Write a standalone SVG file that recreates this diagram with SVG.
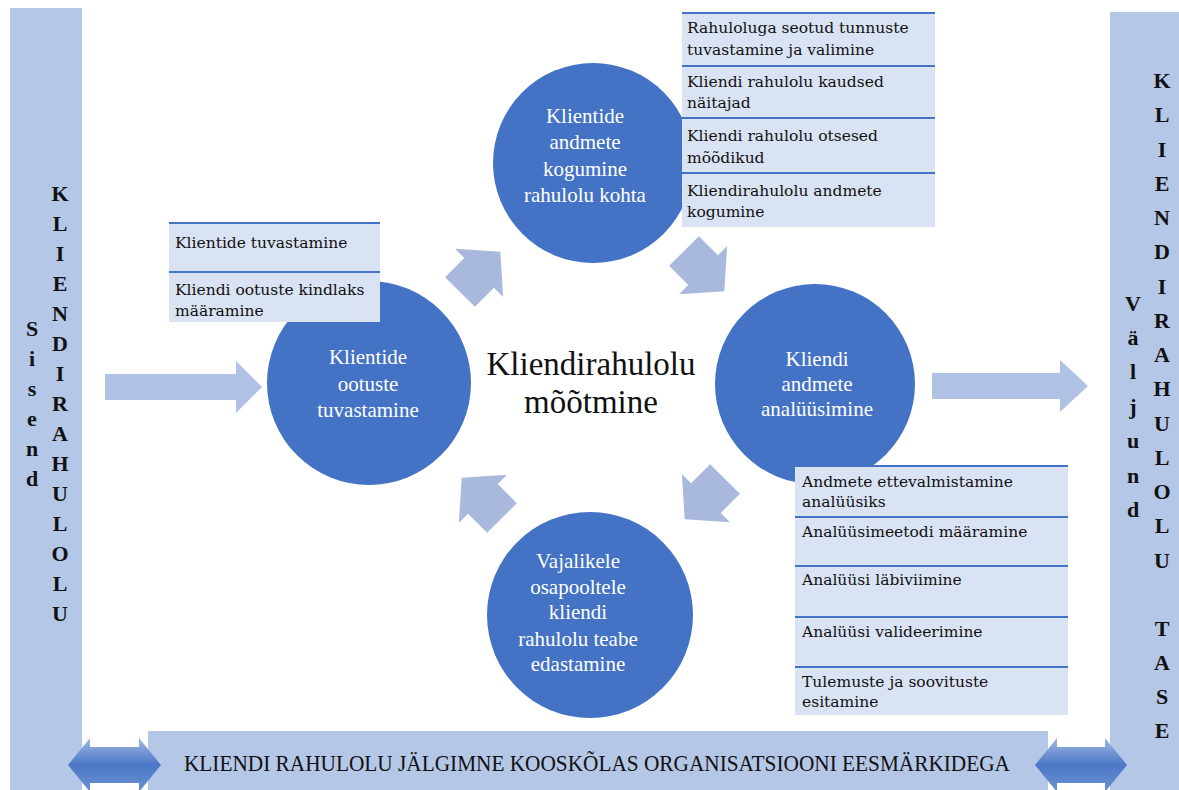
<svg xmlns="http://www.w3.org/2000/svg" width="1179" height="790" viewBox="0 0 1179 790">
<style>
.bar{fill:#B4C7E7}
.circ{fill:#4472C4}
.ctext{font-family:"Liberation Serif",serif;font-size:21px;fill:#FFFFFF;text-anchor:middle}
.center{font-family:"Liberation Serif",serif;font-size:33px;fill:#111;text-anchor:middle}
.vt{font-family:"Liberation Serif",serif;font-size:22px;font-weight:bold;fill:#111;text-anchor:middle}
.row{fill:#DAE3F3}
.rline{stroke:#4472C4;stroke-width:2}
.btext{font-family:"DejaVu Serif",serif;font-size:15.5px;fill:#111}
.harrow{fill:#AFC1E5}
.darrow{fill:#A9B9DD}
.barText{font-family:"Liberation Serif",serif;font-size:23px;fill:#111}
</style>
<defs>
<path id="fat" d="M0,-21 H27 V-34 L57,0 L27,34 V21 H0 Z"/>
<linearGradient id="dg" x1="0" y1="0" x2="0" y2="1">
<stop offset="0" stop-color="#A3B9E5"/>
<stop offset="0.5" stop-color="#4A77C6"/>
<stop offset="1" stop-color="#6F92D2"/>
</linearGradient>
</defs>
<rect width="1179" height="790" fill="#FFFFFF"/>

<g id="input-bar">
<rect class="bar" x="10" y="8" width="72" height="782"/>
<text class="vt"><tspan x="32" y="336">S</tspan><tspan x="32" y="366">i</tspan><tspan x="32" y="396">s</tspan><tspan x="32" y="426">e</tspan><tspan x="32" y="456">n</tspan><tspan x="32" y="486">d</tspan></text>
<text class="vt"><tspan x="60" y="201">K</tspan><tspan x="60" y="231">L</tspan><tspan x="60" y="261">I</tspan><tspan x="60" y="291">E</tspan><tspan x="60" y="321">N</tspan><tspan x="60" y="351">D</tspan><tspan x="60" y="381">I</tspan><tspan x="60" y="411">R</tspan><tspan x="60" y="441">A</tspan><tspan x="60" y="471">H</tspan><tspan x="60" y="501">U</tspan><tspan x="60" y="531">L</tspan><tspan x="60" y="561">O</tspan><tspan x="60" y="591">L</tspan><tspan x="60" y="621">U</tspan></text>
</g>

<g id="output-bar">
<rect class="bar" x="1110" y="12" width="69" height="778"/>
<text class="vt"><tspan x="1133" y="311">V</tspan><tspan x="1133" y="345">ä</tspan><tspan x="1133" y="379">l</tspan><tspan x="1133" y="414">j</tspan><tspan x="1133" y="448">u</tspan><tspan x="1133" y="483">n</tspan><tspan x="1133" y="517">d</tspan></text>
<text class="vt"><tspan x="1162" y="88">K</tspan><tspan x="1162" y="122">L</tspan><tspan x="1162" y="157">I</tspan><tspan x="1162" y="191">E</tspan><tspan x="1162" y="225">N</tspan><tspan x="1162" y="259">D</tspan><tspan x="1162" y="294">I</tspan><tspan x="1162" y="328">R</tspan><tspan x="1162" y="362">A</tspan><tspan x="1162" y="396">H</tspan><tspan x="1162" y="431">U</tspan><tspan x="1162" y="465">L</tspan><tspan x="1162" y="499">O</tspan><tspan x="1162" y="533">L</tspan><tspan x="1162" y="568">U</tspan><tspan x="1162" y="636">T</tspan><tspan x="1162" y="670">A</tspan><tspan x="1162" y="704">S</tspan><tspan x="1162" y="738">E</tspan></text>
</g>

<g id="bottom-bar">
<rect class="bar" x="148" y="731" width="900" height="59"/>
<text class="barText" x="184" y="771" textLength="826" lengthAdjust="spacingAndGlyphs">KLIENDI RAHULOLU JÄLGIMNE KOOSKÕLAS ORGANISATSIOONI EESMÄRKIDEGA</text>
</g>

<g id="connectors">
<path class="harrow" d="M105,374 H236 V361 L262,387 L236,413 V400 H105 Z"/>
<path class="harrow" d="M932,373 H1060 V360 L1088,386 L1060,412 V399 H932 Z"/>
<use href="#fat" class="darrow" transform="translate(460,292) rotate(-45)"/>
<use href="#fat" class="darrow" transform="translate(684,251) rotate(45)"/>
<use href="#fat" class="darrow" transform="translate(725,479) rotate(135)"/>
<use href="#fat" class="darrow" transform="translate(502,518) rotate(-135)"/>
<path fill="url(#dg)" d="M68,765 L90,738 V747 H139 V738 L161,765 L139,792 V783 H90 V792 Z"/>
<path fill="url(#dg)" d="M1035,765 L1057,738 V747 H1105 V738 L1127,765 L1105,792 V783 H1057 V792 Z"/>
</g>

<g id="center-label">
<text class="center" x="591" y="375">Kliendirahulolu</text>
<text class="center" x="591" y="413">mõõtmine</text>
</g>

<g id="node-top">
<circle class="circ" cx="593" cy="163" r="100"/>
<text class="ctext"><tspan x="585" y="123">Klientide</tspan><tspan x="585" y="149">andmete</tspan><tspan x="585" y="176">kogumine</tspan><tspan x="585" y="202">rahulolu kohta</tspan></text>
</g>

<g id="node-left">
<circle class="circ" cx="369" cy="383" r="102"/>
<text class="ctext"><tspan x="368" y="364">Klientide</tspan><tspan x="368" y="391">ootuste</tspan><tspan x="368" y="417">tuvastamine</tspan></text>
</g>

<g id="node-right">
<circle class="circ" cx="815" cy="384" r="100"/>
<text class="ctext"><tspan x="817" y="366">Kliendi</tspan><tspan x="817" y="391">andmete</tspan><tspan x="817" y="416">analüüsimine</tspan></text>
</g>

<g id="node-bottom">
<circle class="circ" cx="590" cy="615" r="103"/>
<text class="ctext"><tspan x="578" y="568">Vajalikele</tspan><tspan x="578" y="594">osapooltele</tspan><tspan x="578" y="619">kliendi</tspan><tspan x="578" y="646">rahulolu teabe</tspan><tspan x="578" y="671">edastamine</tspan></text>
</g>

<g id="list-top-left">
<rect class="row" x="169" y="223" width="211" height="99"/>
<line class="rline" x1="169" y1="223" x2="380" y2="223"/>
<line class="rline" x1="169" y1="272" x2="380" y2="272"/>
<text class="btext" x="175" y="248">Klientide tuvastamine</text>
<text class="btext"><tspan x="175" y="295">Kliendi ootuste kindlaks</tspan><tspan x="175" y="316">määramine</tspan></text>
</g>

<g id="list-top-right">
<rect class="row" x="682" y="13" width="253" height="214"/>
<line class="rline" x1="682" y1="13" x2="935" y2="13"/>
<line class="rline" x1="682" y1="66" x2="935" y2="66"/>
<line class="rline" x1="682" y1="118" x2="935" y2="118"/>
<line class="rline" x1="682" y1="173" x2="935" y2="173"/>
<text class="btext"><tspan x="687" y="33">Rahuloluga seotud tunnuste</tspan><tspan x="687" y="55">tuvastamine ja valimine</tspan></text>
<text class="btext"><tspan x="687" y="87">Kliendi rahulolu kaudsed</tspan><tspan x="687" y="108">näitajad</tspan></text>
<text class="btext"><tspan x="687" y="141">Kliendi rahulolu otsesed</tspan><tspan x="687" y="163">mõõdikud</tspan></text>
<text class="btext"><tspan x="687" y="196">Kliendirahulolu andmete</tspan><tspan x="687" y="217">kogumine</tspan></text>
</g>

<g id="list-bottom-right">
<rect class="row" x="795" y="466" width="273" height="249"/>
<line class="rline" x1="795" y1="466" x2="1068" y2="466"/>
<line class="rline" x1="795" y1="517" x2="1068" y2="517"/>
<line class="rline" x1="795" y1="566" x2="1068" y2="566"/>
<line class="rline" x1="795" y1="617" x2="1068" y2="617"/>
<line class="rline" x1="795" y1="667" x2="1068" y2="667"/>
<text class="btext"><tspan x="802" y="487">Andmete ettevalmistamine</tspan><tspan x="802" y="507">analüüsiks</tspan></text>
<text class="btext" x="802" y="537">Analüüsimeetodi määramine</text>
<text class="btext" x="802" y="585">Analüüsi läbiviimine</text>
<text class="btext" x="802" y="637">Analüüsi valideerimine</text>
<text class="btext"><tspan x="802" y="687">Tulemuste ja soovituste</tspan><tspan x="802" y="707">esitamine</tspan></text>
</g>
</svg>
